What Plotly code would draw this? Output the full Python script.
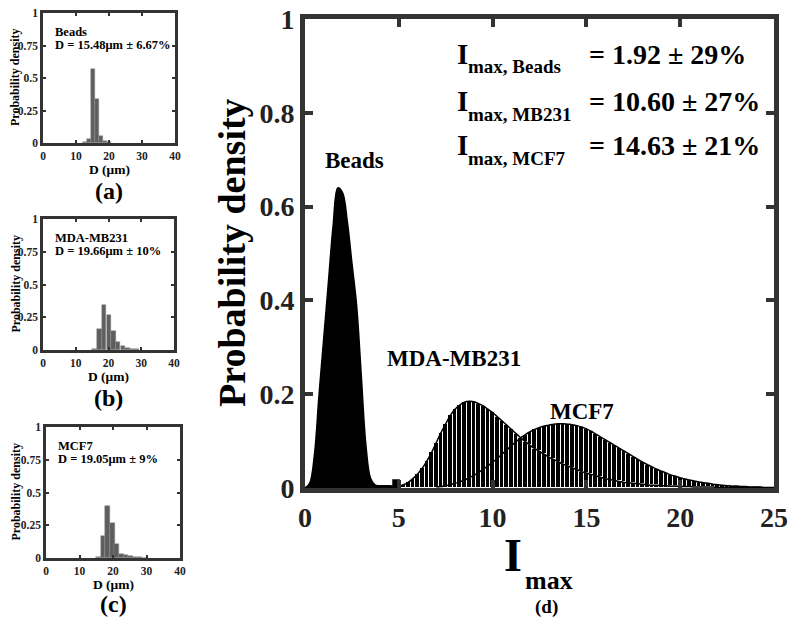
import numpy as np
import plotly.graph_objects as go

# page body keeps an 8px margin; positions below are window pixels, shifted by OFF
W, H = 780, 609
OFF = 8

# ---------------- data: main panel (d) ----------------
bin_w = 0.25
beads_x0 = 0.0
beads_curve = [0.0, 0.01, 0.07, 0.20, 0.32, 0.44, 0.56, 0.64, 0.63, 0.57, 0.48, 0.39,
               0.24, 0.09, 0.02, 0.006, 0.005, 0.005, 0.005, 0.004, 0.004]
beads_bar_x = [4.9]
beads_bar_y = [0.018]

mda_x0 = 5.0
mda_vals = [0.004, 0.007, 0.012, 0.020, 0.030, 0.042, 0.058, 0.076, 0.097, 0.118, 0.137, 0.155,
            0.168, 0.177, 0.183, 0.185, 0.184, 0.180, 0.175, 0.168, 0.161, 0.152, 0.143, 0.134,
            0.125, 0.116, 0.107, 0.099, 0.091, 0.084, 0.078, 0.072, 0.066, 0.061, 0.056, 0.051,
            0.047, 0.043, 0.039, 0.035, 0.032, 0.029, 0.026, 0.023, 0.020, 0.018, 0.016, 0.014,
            0.012, 0.011, 0.010, 0.009, 0.008, 0.007, 0.006, 0.006, 0.005, 0.005, 0.004, 0.004,
            0.003, 0.003, 0.003, 0.002, 0.002, 0.002, 0.002, 0.002, 0.001, 0.001, 0.001, 0.001,
            0.001, 0.001, 0.001, 0.001, 0.001, 0.001, 0.0, 0.0, 0.0]

mcf_x0 = 7.0
mcf_vals = [0.002, 0.003, 0.005, 0.007, 0.010, 0.013, 0.017, 0.022, 0.027, 0.033, 0.040, 0.047,
            0.055, 0.063, 0.072, 0.081, 0.090, 0.099, 0.107, 0.114, 0.120, 0.125, 0.129, 0.132,
            0.134, 0.136, 0.137, 0.137, 0.136, 0.135, 0.133, 0.130, 0.126, 0.121, 0.115, 0.109,
            0.103, 0.097, 0.091, 0.085, 0.079, 0.073, 0.067, 0.061, 0.055, 0.050, 0.045, 0.040,
            0.036, 0.032, 0.028, 0.025, 0.022, 0.019, 0.017, 0.015, 0.013, 0.011, 0.010, 0.008,
            0.007, 0.006, 0.005, 0.004, 0.004, 0.003, 0.003, 0.002, 0.002, 0.002, 0.001, 0.001,
            0.001]

main_xticks = [0, 5, 10, 15, 20, 25]
main_yticks = [0, 0.2, 0.4, 0.6, 0.8, 1]

stats_labels = ["max, Beads", "max, MB231", "max, MCF7"]
stats_values = ["= 1.92 \u00b1 29%", "= 10.60 \u00b1 27%", "= 14.63 \u00b1 21%"]

# ---------------- data: small panels (a)-(c) ----------------
a_x = [12.8, 14.0, 15.2, 16.4, 17.6, 18.8, 20.0]
a_y = [0.004, 0.03, 0.57, 0.34, 0.055, 0.012, 0.004]
a_w = 1.2
b_x = [15.8, 17.2, 18.65, 20.1, 21.5, 22.95, 24.4, 25.8, 27.2, 28.6]
b_y = [0.010, 0.158, 0.343, 0.267, 0.145, 0.064, 0.033, 0.015, 0.008, 0.004]
b_w = 1.42
c_x = [15.6, 17.0, 18.4, 19.75, 21.1, 22.5, 23.9, 25.3, 26.7, 28.1, 29.5]
c_y = [0.010, 0.165, 0.400, 0.266, 0.106, 0.033, 0.020, 0.012, 0.008, 0.004, 0.002]
c_w = 1.4
small_names = ["Beads", "MDA-MB231", "MCF7"]
small_stats = ["D = 15.48\u03bcm \u00b1 6.67%", "D = 19.66\u03bcm \u00b1 10%", "D = 19.05\u03bcm \u00b1 9%"]
small_letters = ["(a)", "(b)", "(c)"]
small_xticks = [0, 10, 20, 30, 40]
small_yticks = [0, 0.25, 0.5, 0.75, 1]
small_yticktext = ["0", "0.25", "0.5", "0.75", "1"]

FONT = "Liberation Serif"
FRAME = "#333333"


def px(x):
    return (x - OFF) / W


def py(y):
    return 1 - (y - OFF) / H


fig = go.Figure()

# main panel traces
mda_x = mda_x0 + bin_w * np.arange(len(mda_vals))
mcf_x = mcf_x0 + bin_w * np.arange(len(mcf_vals))
beads_x = beads_x0 + bin_w * np.arange(len(beads_curve))

fig.add_trace(go.Bar(x=mcf_x, y=mcf_vals, width=bin_w, marker=dict(color="black", line=dict(color="white", width=1)),
                     xaxis="x", yaxis="y", showlegend=False))
fig.add_trace(go.Bar(x=mda_x, y=mda_vals, width=bin_w, marker=dict(color="black", line=dict(color="white", width=1)),
                     xaxis="x", yaxis="y", showlegend=False))
fig.add_trace(go.Bar(x=beads_bar_x, y=beads_bar_y, width=bin_w * 1.5,
                     marker=dict(color="black", line=dict(color="#444", width=1)),
                     xaxis="x", yaxis="y", showlegend=False))
fig.add_trace(go.Scatter(x=mda_x, y=mda_vals, mode="lines", line=dict(color="black", width=1.5, shape="spline"),
                         xaxis="x", yaxis="y", showlegend=False))
fig.add_trace(go.Scatter(x=mcf_x, y=mcf_vals, mode="lines", line=dict(color="black", width=1.5, shape="spline"),
                         xaxis="x", yaxis="y", showlegend=False))
fig.add_trace(go.Scatter(x=beads_x, y=beads_curve, mode="lines", fill="tozeroy", fillcolor="black",
                         line=dict(color="black", width=1.5, shape="spline"),
                         xaxis="x", yaxis="y", showlegend=False))

# small panels
small_data = [(a_x, a_y, a_w), (b_x, b_y, b_w), (c_x, c_y, c_w)]
for i, (sx, sy, sw) in enumerate(small_data):
    fig.add_trace(go.Bar(x=sx, y=sy, width=sw,
                         marker=dict(color="#5e5e5e", line=dict(color="#8c8c8c", width=0.5)),
                         xaxis=f"x{i+2}", yaxis=f"y{i+2}", showlegend=False))

axis_common = dict(showline=True, linecolor=FRAME, mirror="allticks", ticks="inside",
                   tickcolor=FRAME, showgrid=False, zeroline=False, automargin=False,
                   ticklabeloverflow="allow")

layout = dict(
    width=W, height=H, margin=dict(l=0, r=0, t=0, b=0, autoexpand=False),
    paper_bgcolor="white", plot_bgcolor="white",
    barmode="overlay", bargap=0,
    font=dict(family=FONT, color="black"),
    xaxis=dict(domain=[px(305), px(774)], range=[0, 25], tickvals=main_xticks,
               linewidth=5, tickwidth=4, ticklen=8,
               tickfont=dict(family=FONT, size=28, weight="bold", color="#222"),
               anchor="y", **axis_common),
    yaxis=dict(domain=[py(488), py(19)], range=[0, 1], tickvals=main_yticks,
               linewidth=5, tickwidth=4, ticklen=8,
               tickfont=dict(family=FONT, size=28, weight="bold", color="#222"),
               anchor="x", **axis_common),
)

small_boxes = [(43, 175, 13, 143), (43, 174, 219, 350), (46, 180, 427, 558)]
for i, (x0, x1, y0, y1) in enumerate(small_boxes):
    k = i + 2
    layout[f"xaxis{k}"] = dict(domain=[px(x0), px(x1)], range=[0, 40], tickvals=small_xticks,
                               linewidth=2.5, tickwidth=1.5, ticklen=3,
                               tickfont=dict(family=FONT, size=11.5, weight="bold", color="#222"),
                               anchor=f"y{k}", **axis_common)
    layout[f"yaxis{k}"] = dict(domain=[py(y1), py(y0)], range=[0, 1], tickvals=small_yticks,
                               ticktext=small_yticktext,
                               linewidth=2.5, tickwidth=1.5, ticklen=3,
                               tickfont=dict(family=FONT, size=11.5, weight="bold", color="#222"),
                               anchor=f"x{k}", **axis_common)

fig.update_layout(**layout)

ann = []


def text(x, y, s, size, xanchor="center", yanchor="middle", angle=0):
    ann.append(dict(x=px(x), y=py(y), xref="paper", yref="paper", text=s, showarrow=False,
                    xanchor=xanchor, yanchor=yanchor, textangle=angle,
                    font=dict(family=FONT, size=size, color="black", weight="bold")))


# main panel texts
text(232, 252, "Probability density", 38, angle=-90)
text(513, 555, "I", 46)
text(549, 580, "max", 26)
text(546, 607, "(d)", 19)
text(354, 160, "Beads", 23)
text(454, 358, "MDA-MB231", 23)
text(582, 411, "MCF7", 23)
rows_y = [54, 101, 145]
for ry, lab, val in zip(rows_y, stats_labels, stats_values):
    text(455, ry, "I", 29, xanchor="left")
    text(466, ry + 13, lab, 19, xanchor="left")
    text(587, ry, val, 28, xanchor="left")

# small panel texts
letter_y = [191, 398, 604]
for i, (x0, x1, y0, y1) in enumerate(small_boxes):
    text(x0 + 10, y0 + 19, small_names[i], 12.5, xanchor="left")
    text(x0 + 10, y0 + 32, small_stats[i], 12.5, xanchor="left")
    text(15, (y0 + y1) / 2, "Probability density", 12, angle=-90)
    text((x0 + x1) / 2, y1 + 26, "D (\u03bcm)", 13.5)
    text((x0 + x1) / 2, letter_y[i], small_letters[i], 24)

fig.update_layout(annotations=ann)
fig.write_html("out.html")
